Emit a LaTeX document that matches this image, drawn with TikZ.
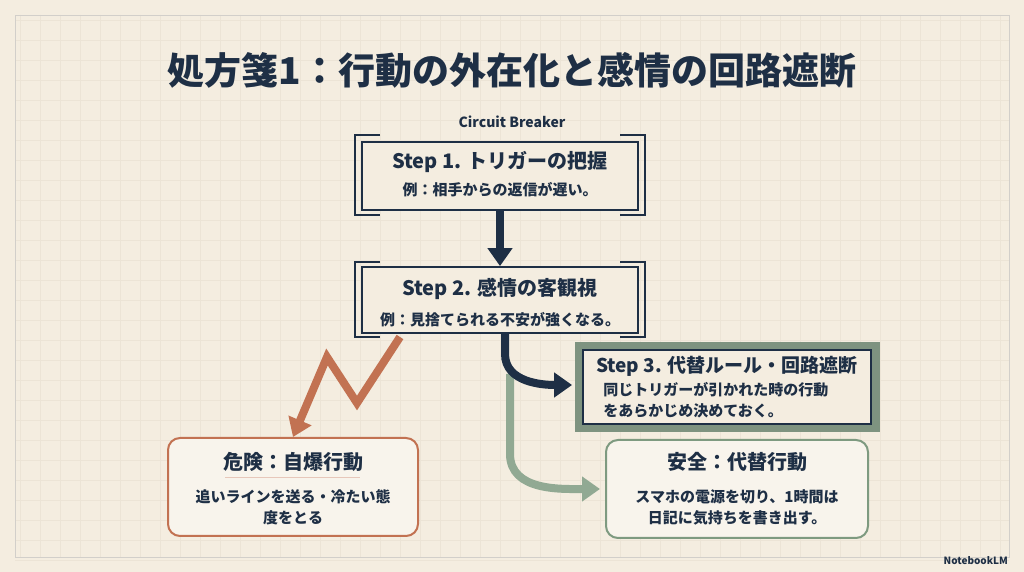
\documentclass[tikz,border=0pt]{standalone}
\usepackage{fontspec}
\setmainfont{Noto Sans CJK JP}
\usepackage{tikz}
\usetikzlibrary{arrows.meta,positioning,calc}
\definecolor{paper}{HTML}{F4EDE0}
\definecolor{navy}{HTML}{1E2F45}
\definecolor{rust}{HTML}{C27252}
\definecolor{sage}{HTML}{7E9A80}
\definecolor{gridc}{HTML}{ECE4D6}

\begin{document}
\begin{tikzpicture}[
    x=0.5pt, y=-0.5pt,
    hd/.style={font=\bfseries\fontsize{10}{12}\selectfont, text=navy, inner sep=0pt},
    sub/.style={font=\bfseries\fontsize{7.5}{10.5}\selectfont, text=navy, inner sep=0pt, align=center},
    stepbox/.style={draw=navy, line width=0.9pt, fill=paper},
    brk/.style={draw=navy, line width=0.9pt},
    flow/.style={line width=4pt, -{Triangle[length=9pt,width=12pt]}},
    endbox/.style={rounded corners=6pt, line width=1pt, fill=paper!60!white},
  ]

  % Background
  \useasboundingbox (0,0) rectangle (1024,572);
  \fill[paper] (0,0) rectangle (1024,572);
  \foreach \x in {20,40,...,1000} {
    \draw[gridc, line width=0.2pt] (\x,15) -- (\x,557);
  }
  \foreach \y in {20,40,...,560} {
    \draw[gridc, line width=0.2pt] (15,\y) -- (1009,\y);
  }
  \draw[gridc!70!black!50, line width=0.4pt] (15,15) rectangle (1009,557);

  % Title
  \node[font=\bfseries\fontsize{18.5}{22}\selectfont, text=navy] (title) at (512,70)
    {処方箋1：行動の外在化と感情の回路遮断};
  \node[font=\bfseries\fontsize{7}{9}\selectfont, text=navy] (cb) at (512,122)
    {Circuit Breaker};

  % Step 1
  \draw[brk] (380,135) -- (355,135) -- (355,215) -- (380,215);
  \draw[brk] (620,135) -- (645,135) -- (645,215) -- (620,215);
  \node[stepbox, minimum width=138pt, minimum height=34pt] (s1) at (500,176) {};
  \node[hd] (s1h) at (500,162) {Step 1. トリガーの把握};
  \node[sub] (s1t) at (500,190) {例：相手からの返信が遅い。};

  % Step 2
  \draw[brk] (380,262) -- (355,262) -- (355,337) -- (380,337);
  \draw[brk] (620,262) -- (645,262) -- (645,337) -- (620,337);
  \node[stepbox, minimum width=138pt, minimum height=33pt] (s2) at (500,300) {};
  \node[hd] (s2h) at (500,289) {Step 2. 感情の客観視};
  \node[sub] (s2t) at (500,320) {例：見捨てられる不安が強くなる。};

  % Step 3
  \fill[sage!75!gray] (575,342) rectangle (880,432);
  \node[stepbox, minimum width=144pt, minimum height=37pt] (s3) at (727,387) {};
  \node[hd, font=\bfseries\fontsize{9.5}{11}\selectfont] (s3h) at (727,366) {Step 3. 代替ルール・回路遮断};
  \node[sub, align=left, anchor=west] (s3t) at (603,400)
    {同じトリガーが引かれた時の行動\\をあらかじめ決めておく。};

  % Outcomes
  \node[endbox, draw=rust, minimum width=125pt, minimum height=49pt] (bad) at (293,487) {};
  \node[hd] (badh) at (293,462) {危険：自爆行動};
  \draw[rust!40, line width=0.5pt] (225,478) -- (360,478);
  \node[sub] (badt) at (293,507) {追いラインを送る・冷たい態\\度をとる};

  \node[endbox, draw=sage, minimum width=131pt, minimum height=49pt] (good) at (737,489) {};
  \node[hd] (goodh) at (737,462) {安全：代替行動};
  \node[sub] (goodt) at (737,507) {スマホの電源を切り、1時間は\\日記に気持ちを書き出す。};

  % Arrows
  \draw[flow, navy] (s1.south) -- (s2.north);
  \draw[flow, sage!85!white] ($(s2.south)+(10,40)$) -- ++(0,80) to[out=-90,in=180] ($(good.west)+(-5,0)$);
  \draw[flow, navy] ($(s2.south)+(5,0)$) -- ++(0,20) to[out=-90,in=180] ($(s3.west)+(-10,-2)$);
  \draw[flow, rust, line join=miter] (400,337) -- (357,403) -- (327,357) -- (bad.north);

  % Logo
  \node[font=\bfseries\fontsize{5}{6}\selectfont, text=navy, anchor=east] (logo) at (1015,561) {NotebookLM};
\end{tikzpicture}
\end{document}
